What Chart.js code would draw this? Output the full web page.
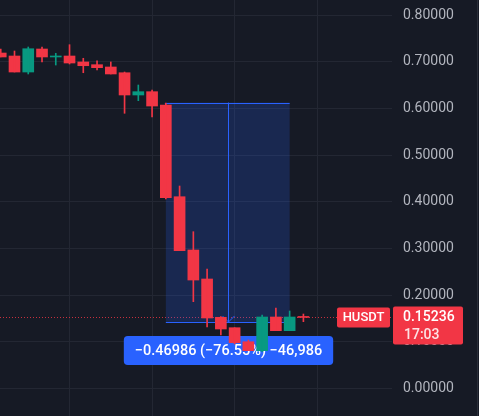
<!DOCTYPE html>
<html>
<head>
<meta charset="utf-8">
<script src="https://cdn.jsdelivr.net/npm/chart.js@4.4.0/dist/chart.umd.min.js"></script>
<style>
html,body{margin:0;padding:0;background:#161a25;}
#wrap{width:479px;height:416px;}
canvas{display:block;}
</style>
</head>
<body>
<div id="wrap"><canvas id="c" width="479" height="416"></canvas></div>
<script>
// Candle data (OHLC)
const opens  = [0.7186,0.7122,0.6779,0.7272,0.7101,0.7122,0.6994,0.6936,0.6887,0.6764,0.6287,0.6358,0.6073,0.4109,0.2968,0.2347,0.1527,0.1304,0.1004,0.0812,0.1533,0.1240,0.1530];
const highs  = [0.7272,0.7229,0.7315,0.7315,0.7180,0.7364,0.7073,0.7021,0.6994,0.6779,0.6501,0.6394,0.6116,0.4338,0.3360,0.2561,0.1540,0.1304,0.1041,0.1576,0.1726,0.1662,0.1597];
const lows   = [0.7101,0.6779,0.6737,0.6994,0.6929,0.6951,0.6764,0.6822,0.6737,0.5895,0.6165,0.5816,0.4060,0.2953,0.1861,0.1319,0.1148,0.0955,0.0812,0.0790,0.1240,0.1240,0.1433];
const closes = [0.7101,0.6779,0.7278,0.7101,0.7122,0.6972,0.6914,0.6872,0.6737,0.6287,0.6358,0.6051,0.4088,0.2953,0.2325,0.1512,0.1276,0.0983,0.0812,0.1533,0.1240,0.1533,0.15236];

const yTickValues = [0,0.1,0.2,0.3,0.4,0.5,0.6,0.7,0.8];
const xGridValues = [5,11,17,23];

// Measurement tool
const measureFrom = 12, measureTo = 21;
const measureTop = 0.61250, measureBottom = 0.14264;
const measureText = '\u22120.46986 (\u221276.55%) \u221246,986';

const lastPrice = 0.15236;
const symbolText = 'HUSDT';
const priceText = '0.15236';
const timerText = '17:03';

const UP = '#089981', DOWN = '#f23645', BG = '#161a25', GRID = '#232733';
const col = opens.map((o,i)=> closes[i] >= o ? UP : DOWN);

const bgPlugin = {
  id:'bg',
  beforeDraw(chart){
    const ctx = chart.ctx;
    ctx.save();
    ctx.fillStyle = BG;
    ctx.fillRect(0,0,chart.width,chart.height);
    ctx.restore();
  },
  beforeDatasetsDraw(chart){
    const ctx = chart.ctx, xs = chart.scales.x, ys = chart.scales.y, ca = chart.chartArea;
    const x1 = xs.getPixelForValue(measureFrom), x2 = xs.getPixelForValue(measureTo);
    const yT = ys.getPixelForValue(measureTop), yB = ys.getPixelForValue(measureBottom);
    ctx.save();
    // price dotted line
    const py = Math.round(ys.getPixelForValue(lastPrice)) + 0.5;
    ctx.strokeStyle = 'rgba(242,54,69,0.8)'; ctx.lineWidth = 1; ctx.setLineDash([1,2]);
    ctx.beginPath(); ctx.moveTo(ca.left, py); ctx.lineTo(ca.right, py); ctx.stroke();
    ctx.setLineDash([]);
    // box
    ctx.fillStyle = 'rgba(41,98,255,0.2)';
    ctx.fillRect(x1, yT, x2-x1, yB-yT);
    ctx.strokeStyle = '#2962ff'; ctx.lineWidth = 1;
    const xm = Math.round((x1+x2)/2)+0.5;
    ctx.beginPath();
    ctx.moveTo(x1-1, Math.round(yT)+0.5); ctx.lineTo(x2, Math.round(yT)+0.5);
    ctx.moveTo(x1, Math.round(yB)+0.5); ctx.lineTo(x2, Math.round(yB)+0.5);
    ctx.moveTo(xm, yT); ctx.lineTo(xm, yB);
    ctx.moveTo(xm-6, yB-6); ctx.lineTo(xm, yB); ctx.lineTo(xm+6, yB-6);
    ctx.stroke();
    // label
    ctx.font = '500 14.5px Roboto';
    const tw = ctx.measureText(measureText).width;
    const bw = tw + 22, bh = 29, bx = xm - bw/2, by = yB + 14;
    ctx.fillStyle = '#2962ff';
    ctx.beginPath(); ctx.roundRect(bx, by, bw, bh, 4); ctx.fill();
    ctx.fillStyle = '#ffffff'; ctx.textAlign = 'center'; ctx.textBaseline = 'middle';
    ctx.fillText(measureText, xm, by + bh/2 + 1);
    ctx.restore();
  },
  afterDraw(chart){
    const ctx = chart.ctx, ys = chart.scales.y, ca = chart.chartArea;
    const py = ys.getPixelForValue(lastPrice);
    ctx.save();
    // symbol label
    ctx.fillStyle = DOWN;
    ctx.beginPath(); ctx.roundRect(337, py-10, 53, 20, 2); ctx.fill();
    ctx.fillStyle = '#fff'; ctx.font = '500 13px Roboto'; ctx.textAlign='center'; ctx.textBaseline='middle';
    ctx.fillText(symbolText, 363.5, py+0.5);
    // price label
    ctx.fillStyle = DOWN;
    ctx.beginPath(); ctx.roundRect(ca.right+1, py-11, 70, 38, 2); ctx.fill();
    ctx.fillStyle = '#fff'; ctx.font = '500 14px Roboto'; ctx.textAlign='left';
    ctx.fillText(priceText, 403, py+0.5);
    ctx.fillStyle = '#fde3e5';
    ctx.fillText(timerText, 404, py+18);
    // right edge
    ctx.strokeStyle = '#2a2e39';
    ctx.beginPath(); ctx.moveTo(477.5,0); ctx.lineTo(477.5,chart.height); ctx.stroke();
    ctx.restore();
  }
};

const wickData = opens.map((o,i)=>({x:i, y:[lows[i], highs[i]]}));
const bodyData = opens.map((o,i)=>({x:i, y:[o, closes[i]]}));

new Chart(document.getElementById('c'), {
  type:'bar',
  data:{
    datasets:[
      {data:wickData, backgroundColor:col, barThickness:1, grouped:false, borderWidth:0, borderSkipped:false},
      {data:bodyData, backgroundColor:col, barThickness:11, grouped:false, borderWidth:0, borderSkipped:false, minBarLength:1}
    ]
  },
  options:{
    responsive:false, animation:false, devicePixelRatio:1,
    layout:{padding:0},
    plugins:{legend:{display:false}, tooltip:{enabled:false}},
    scales:{
      x:{
        type:'linear', min:-0.054, max:28.44, offset:false,
        afterBuildTicks(s){ s.ticks = xGridValues.map(v=>({value:v})); },
        afterFit(s){ s.height = 0; s.paddingLeft = 0; s.paddingRight = 0; s.paddingTop = 0; s.paddingBottom = 0; },
        ticks:{display:false},
        grid:{color:GRID, drawTicks:false, offset:false},
        border:{display:false}
      },
      y:{
        position:'right', min:-0.05867, max:0.83212,
        afterBuildTicks(s){ s.ticks = yTickValues.map(v=>({value:v})); },
        afterFit(s){ s.width = 87; s.paddingTop = 0; s.paddingBottom = 0; s.paddingLeft = 0; s.paddingRight = 0; },
        ticks:{padding:11, color:'#b2b5be', font:{family:'Roboto', size:14}, callback:(v)=>Number(v).toFixed(5)},
        grid:{color:GRID, drawTicks:false},
        border:{display:false}
      }
    }
  },
  plugins:[bgPlugin]
});
</script>
</body>
</html>
